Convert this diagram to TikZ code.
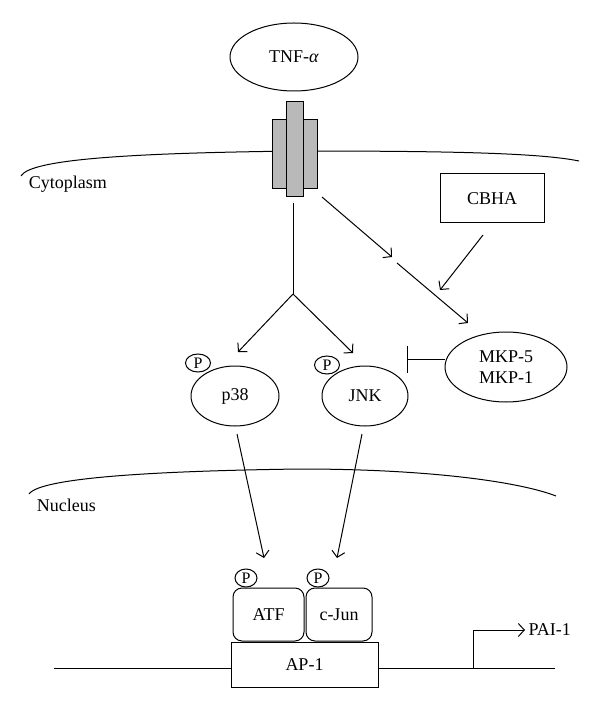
\documentclass[tikz,border=0pt]{standalone}
\usepackage{fontspec}
\setmainfont{Liberation Serif}
\usetikzlibrary{positioning,calc,shapes.geometric,arrows.meta}

\begin{document}
\begin{tikzpicture}[x=1pt,y=-1pt,line width=1pt,
    every node/.style={font=\fontsize{18}{21}\selectfont},
    arr/.style={-{Straight Barb[length=6pt,width=13pt]}},
    inh/.style={-{Bar[width=27pt]}},
    oval/.style={draw,ellipse,inner sep=0pt},
    phos/.style={draw,ellipse,fill=white,inner sep=0pt,minimum width=25pt,
      minimum height=18pt,font=\fontsize{16}{16}\selectfont},
    tfbox/.style={draw,rounded corners=9pt,minimum height=53pt,inner sep=0pt},
    rbar/.style={draw,fill=gray!55,inner sep=0pt}]
    \useasboundingbox (0,0) rectangle (600,708);

      % Membranes
      \draw (21,176) .. controls (30,160) and (120,153) .. (300,151)
        .. controls (450,151) and (540,153) .. (579,161);
      \draw (29,494) .. controls (40,478) and (150,471) .. (300,469)
        .. controls (430,469) and (520,482) .. (556,496);
      \node[anchor=base west] (cyto) at (25,189) {Cytoplasm};
      \node[anchor=base west] (nucl) at (33,511) {Nucleus};

      % Ligand and receptor
      \node[oval,minimum width=128pt,minimum height=68pt] (tnf) at (294,57) {TNF-\textit{α}};
      \node[rbar,minimum width=45pt,minimum height=69pt] (rout) at (295,154.5) {};
      \node[rbar,minimum width=17pt,minimum height=95pt] (rin) at (294.5,149.5) {};

      % Inhibitor
      \node[draw,minimum width=104pt,minimum height=49pt] (cbha) at (492,198.5) {CBHA};
      \node[oval,minimum width=122pt,minimum height=70pt,align=center] (mkp) at (506,367)
        {MKP-5\\MKP-1};

      % Kinases
      \node[oval,minimum width=88pt,minimum height=60pt] (p38) at (235,396) {p38};
      \node[oval,minimum width=86pt,minimum height=60pt] (jnk) at (365,396) {JNK};
      \node[phos] (p38p) at (198,363) {P};
      \node[phos] (jnkp) at (327,365) {P};

      % Points on the paths
      \coordinate (jct) at (293,294);
      \coordinate (split) at (394.5,260);

      % Signalling
      \draw (293,203) -- (jct);
      \draw[arr] (jct) -- (238,352);
      \draw[arr] (jct) -- (353,353);
      \draw[arr] (322,197) -- ($(split)+(-2.5,-3)$);
      \draw[arr] ($(split)+(2.5,3)$) -- (468,323);
      \draw[arr] (483,235) -- (440,290);
      \draw[inh] (mkp.west |- 0,359) -- (407,359);
      \draw[arr] (237,434) -- (264,558);
      \draw[arr] (362,434) -- (337,558);

      % DNA
      \draw (54,668) -- (555,668);
      \node[draw,fill=white,minimum width=147pt,minimum height=45pt] (ap1) at (304.5,664.5) {AP-1};
      \node[tfbox,minimum width=71pt] (atf) at (268.5,614.5) {ATF};
      \node[tfbox,minimum width=66pt] (cjun) at (339,614.5) {c-Jun};
      \node[phos,minimum width=22pt] (atfp) at (246,578) {P};
      \node[phos,minimum width=22pt] (cjunp) at (318,578) {P};
      \coordinate (tss) at (473,668);
      \node[anchor=west,inner sep=3pt] (pai) at (525,630) {PAI-1};
      \draw[arr] (tss) |- (pai.west);
  \end{tikzpicture}
\end{document}
